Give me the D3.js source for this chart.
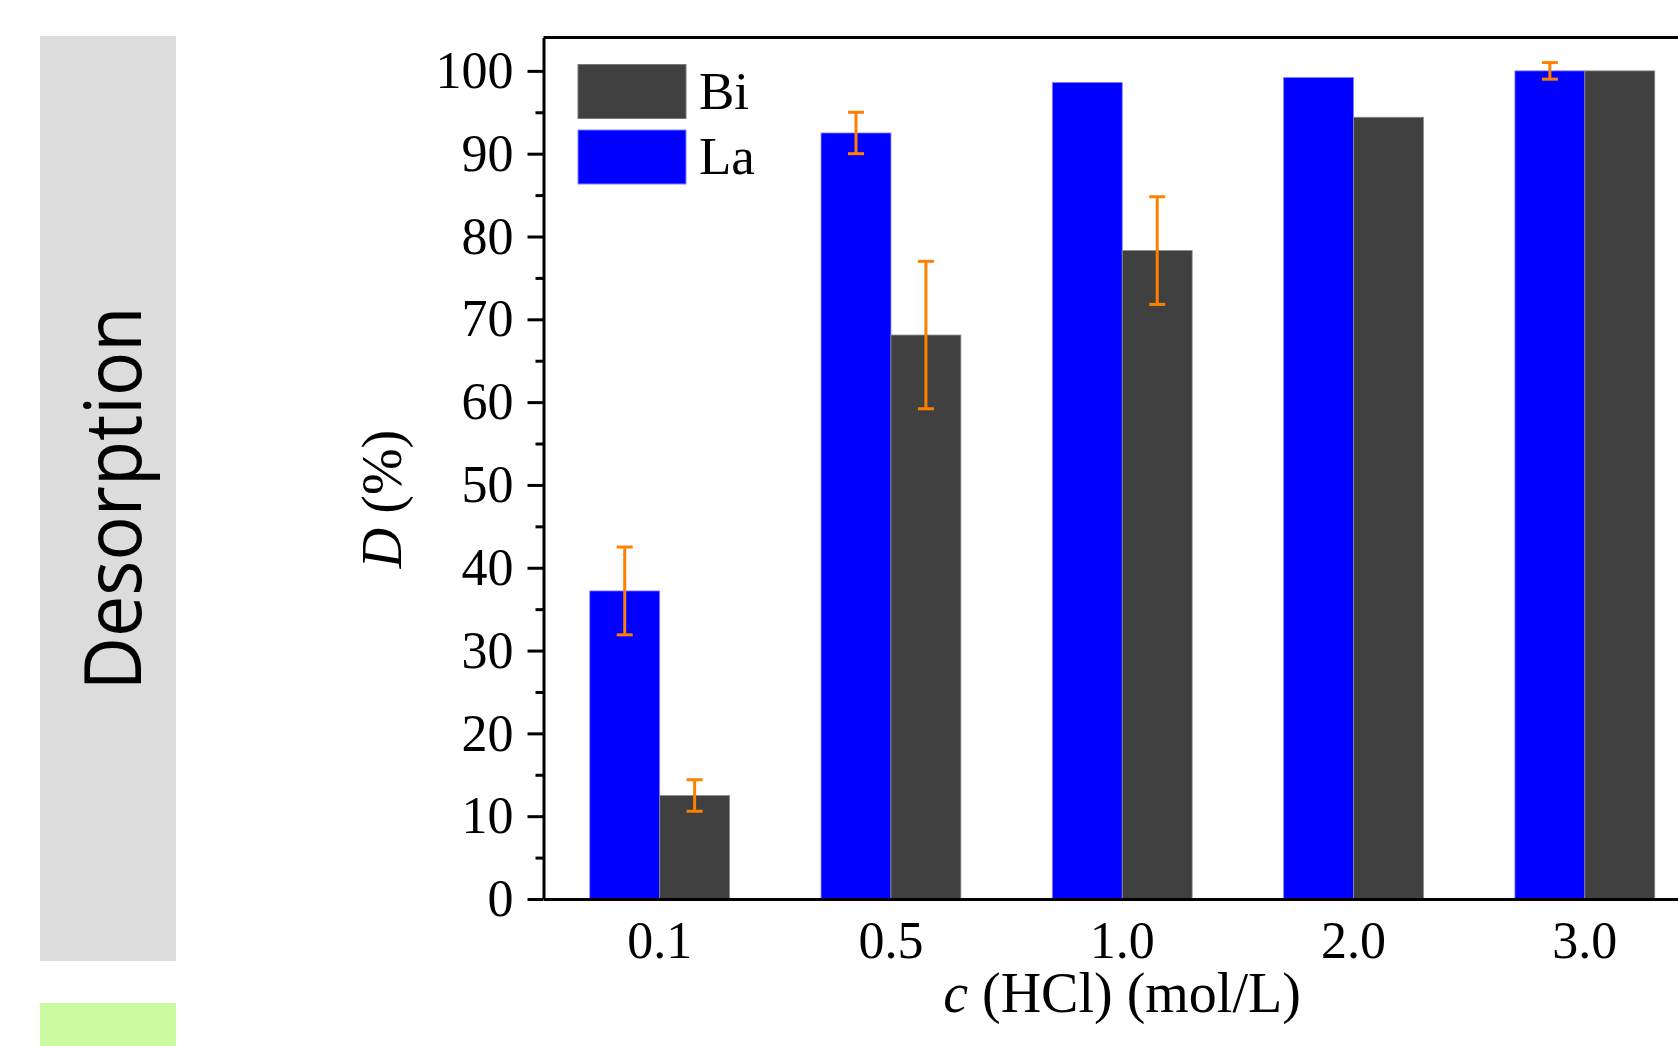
<!DOCTYPE html>
<html>
<head>
<meta charset="utf-8">
<script src="https://cdn.jsdelivr.net/npm/d3@7"></script>
<style>
  body { margin: 0; background: #fff; }
  .tick text { font-family: "Liberation Serif", "Times New Roman", serif; }
</style>
</head>
<body>
<div class="chart"></div>
<script>
// data
var concentrations = ["0.1", "0.5", "1.0", "2.0", "3.0"];
var seriesNames = ["La", "Bi"];
var laValues = [37.2, 92.5, 98.6, 99.2, 100];
var biValues = [12.5, 68.1, 78.3, 94.4, 100];
var laErrors = [5.3, 2.5, 0, 0, 1.0];
var biErrors = [1.9, 8.9, 6.5, 0, 0];
var yTicks = [0, 10, 20, 30, 40, 50, 60, 70, 80, 90, 100];
var yMinorTicks = [5, 15, 25, 35, 45, 55, 65, 75, 85, 95];

var svgWidth = 1678;
var svgHeight = 1046;

var colors = { La: "#0000ff", Bi: "#404040" };

var rows = concentrations.map(function (c, i) {
  return {
    c: c,
    La: { v: laValues[i], e: laErrors[i] },
    Bi: { v: biValues[i], e: biErrors[i] }
  };
});

var svg = d3.select(".chart")
  .append("svg")
  .attr("width", svgWidth)
  .attr("height", svgHeight)
  .style("display", "block");

// side panel
svg.append("rect")
  .attr("x", 40).attr("y", 36)
  .attr("width", 136).attr("height", 925)
  .attr("fill", "#dcdcdc");

svg.append("rect")
  .attr("x", 40).attr("y", 1003)
  .attr("width", 136).attr("height", 43)
  .attr("fill", "#cbf9a0");

svg.append("text")
  .attr("transform", "translate(141, 498.5) rotate(-90)")
  .attr("text-anchor", "middle")
  .attr("font-family", "'Open Sans', 'Noto Sans', sans-serif")
  .attr("font-size", 78)
  .attr("textLength", 384)
  .attr("lengthAdjust", "spacingAndGlyphs")
  .attr("fill", "#000")
  .text("Desorption");

// plot area
var plotLeft = 543.5, plotRight = 1701, plotTop = 37.5, plotBottom = 899;

var x0 = d3.scaleBand()
  .domain(concentrations)
  .range([plotLeft, plotRight])
  .paddingInner(0.3955)
  .paddingOuter(0.2);

var x1 = d3.scaleBand()
  .domain(seriesNames)
  .range([0, x0.bandwidth()]);

var y = d3.scaleLinear()
  .domain([0, 104.03])
  .range([plotBottom, plotTop]);

var chartGroup = svg.append("g");

// bars
var groups = chartGroup.selectAll(".group")
  .data(rows)
  .enter()
  .append("g")
  .attr("transform", d => `translate(${x0(d.c)}, 0)`);

groups.selectAll("rect")
  .data(d => seriesNames.map(s => ({ s: s, v: d[s].v, e: d[s].e })))
  .enter()
  .append("rect")
  .attr("x", d => x1(d.s))
  .attr("y", d => y(d.v))
  .attr("width", x1.bandwidth())
  .attr("height", d => y(0) - y(d.v))
  .attr("fill", d => colors[d.s])
  .attr("stroke", d => d.s == "La" ? "#7f7fff" : "#8a8a8a")
  .attr("stroke-width", 0.8);

// error bars
var errGroups = groups.selectAll(".err")
  .data(d => seriesNames.map(s => ({ s: s, v: d[s].v, e: d[s].e })).filter(d => d.e > 0))
  .enter()
  .append("g")
  .attr("stroke", "#ff8000")
  .attr("stroke-width", 3);

errGroups.append("line")
  .attr("x1", d => x1(d.s) + x1.bandwidth() / 2)
  .attr("x2", d => x1(d.s) + x1.bandwidth() / 2)
  .attr("y1", d => y(d.v - d.e))
  .attr("y2", d => y(d.v + d.e));

errGroups.selectAll(".cap")
  .data(d => [d.v - d.e, d.v + d.e].map(t => ({ s: d.s, t: t })))
  .enter()
  .append("line")
  .attr("x1", d => x1(d.s) + x1.bandwidth() / 2 - 8)
  .attr("x2", d => x1(d.s) + x1.bandwidth() / 2 + 8)
  .attr("y1", d => y(d.t))
  .attr("y2", d => y(d.t));

// top frame
chartGroup.append("line")
  .attr("x1", plotLeft).attr("x2", plotRight)
  .attr("y1", plotTop).attr("y2", plotTop)
  .attr("stroke", "#000")
  .attr("stroke-width", 3);

// axes
var leftAxis = d3.axisLeft(y)
  .tickValues(yTicks)
  .tickSize(16)
  .tickSizeOuter(0)
  .tickPadding(14)
  .tickFormat(d3.format("d"));

var minorAxis = d3.axisLeft(y)
  .tickValues(yMinorTicks)
  .tickSize(8)
  .tickSizeOuter(0)
  .tickFormat("");

var bottomAxis = d3.axisBottom(x0)
  .tickSize(0)
  .tickSizeOuter(0)
  .tickPadding(22);

var yAxisG = chartGroup.append("g")
  .attr("transform", `translate(${plotLeft}, 0)`)
  .call(leftAxis);

var yMinorG = chartGroup.append("g")
  .attr("transform", `translate(${plotLeft}, 0)`)
  .call(minorAxis);
yMinorG.select(".domain").remove();

var xAxisG = chartGroup.append("g")
  .attr("transform", `translate(0, ${plotBottom})`)
  .call(bottomAxis);

svg.selectAll(".domain").attr("stroke-width", 3).attr("stroke", "#000");
svg.selectAll(".tick line").attr("stroke-width", 3).attr("stroke", "#000");
svg.selectAll(".tick text")
  .attr("font-size", 52)
  .attr("fill", "#000");

// legend
var legendItems = ["Bi", "La"];
var legend = svg.append("g")
  .selectAll("g")
  .data(legendItems)
  .enter()
  .append("g")
  .attr("transform", (d, i) => `translate(578, ${64.5 + i * 65.5})`);

legend.append("rect")
  .attr("width", 108)
  .attr("height", 54)
  .attr("fill", d => colors[d])
  .attr("stroke", d => d == "La" ? "#7f7fff" : "#777")
  .attr("stroke-width", 1);

legend.append("text")
  .attr("x", 121)
  .attr("y", 44)
  .attr("font-family", "'Liberation Serif', 'Times New Roman', serif")
  .attr("font-size", 53)
  .text(d => d);

// axis titles
var yTitle = svg.append("text")
  .attr("transform", "translate(401, 499) rotate(-90)")
  .attr("text-anchor", "middle")
  .attr("font-family", "'Liberation Serif', 'Times New Roman', serif")
  .attr("font-size", 56);
yTitle.append("tspan").attr("font-style", "italic").text("D");
yTitle.append("tspan").text(" (%)");

var xTitle = svg.append("text")
  .attr("x", 1122)
  .attr("y", 1012)
  .attr("text-anchor", "middle")
  .attr("font-family", "'Liberation Serif', 'Times New Roman', serif")
  .attr("font-size", 56);
xTitle.append("tspan").attr("font-style", "italic").text("c");
xTitle.append("tspan").text(" (HCl) (mol/L)");
</script>
</body>
</html>
